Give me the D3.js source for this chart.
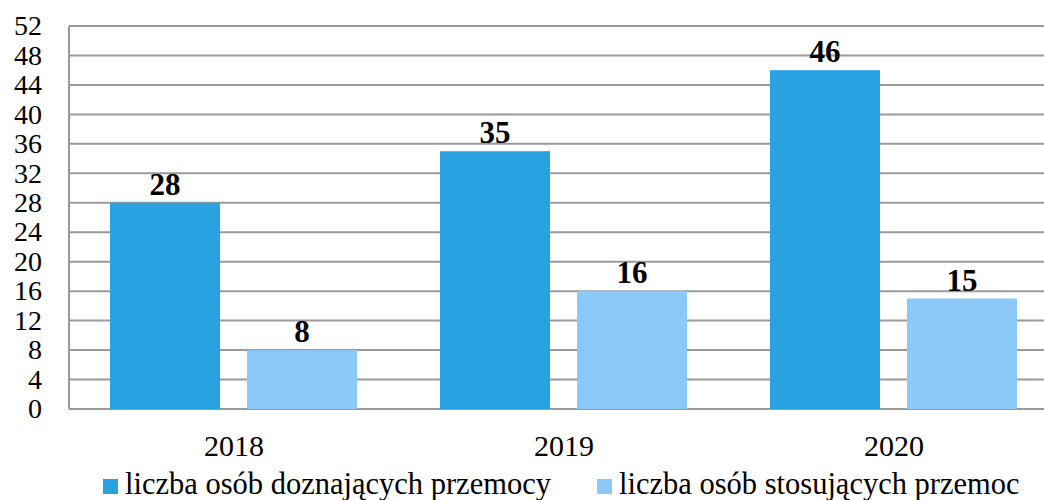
<!DOCTYPE html>
<html>
<head>
<meta charset="utf-8">
<script src="https://cdn.jsdelivr.net/npm/d3@7"></script>
<style>
  body { margin: 0; background: #fff; }
  svg { display: block; font-family: "Liberation Serif", "DejaVu Serif", serif; }
</style>
</head>
<body>
<svg width="1044" height="500"></svg>
<script>
var years = ["2018", "2019", "2020"];
var seriesNames = ["liczba osób doznających przemocy", "liczba osób stosujących przemoc"];
var victims = [28, 35, 46];
var perpetrators = [8, 16, 15];
var yTicks = [0, 4, 8, 12, 16, 20, 24, 28, 32, 36, 40, 44, 48, 52];

var colors = ["#2aa1e0", "#8dc9f8"];

var svg = d3.select("svg"),
    margin = { left: 69, top: 26, bottom: 409, right: 1059 };

var x = d3.scaleBand()
  .domain(years)
  .range([margin.left, margin.right]);

// bars inside each year slot
var xs = d3.scaleBand()
  .domain([0, 1])
  .range([41, 288])
  .paddingInner(0.197);

var y = d3.scaleLinear()
  .domain([0, 52])
  .range([margin.bottom, margin.top]);

// gridlines
svg.append("g")
  .selectAll("line")
  .data(yTicks)
  .enter().append("line")
    .attr("x1", margin.left)
    .attr("x2", margin.right)
    .attr("y1", function(d) { return y(d); })
    .attr("y2", function(d) { return y(d); })
    .attr("stroke", "#9a9a9a")
    .attr("stroke-width", 2);

// left axis line
svg.append("line")
  .attr("x1", margin.left).attr("x2", margin.left)
  .attr("y1", y(52)).attr("y2", y(0))
  .attr("stroke", "#9a9a9a")
  .attr("stroke-width", 2);

// y tick labels
svg.append("g")
  .selectAll("text")
  .data(yTicks)
  .enter().append("text")
    .attr("x", 42)
    .attr("y", function(d) { return y(d); })
    .attr("dy", "0.33em")
    .attr("text-anchor", "end")
    .attr("font-size", 28)
    .attr("fill", "#000")
    .text(function(d) { return d; });

var rows = years.map(function(yr, i) { return [victims[i], perpetrators[i]]; });

var groups = svg.append("g")
  .selectAll("g")
  .data(years)
  .enter().append("g")
    .attr("transform", function(d) { return "translate(" + x(d) + ",0)"; });

groups.selectAll("rect")
  .data(function(d, i) { return rows[i]; })
  .enter().append("rect")
    .attr("x", function(d, j) { return xs(j); })
    .attr("width", xs.bandwidth())
    .attr("y", function(d) { return y(d); })
    .attr("height", function(d) { return y(0) - y(d); })
    .attr("fill", function(d, j) { return colors[j]; });

groups.selectAll("text.val")
  .data(function(d, i) { return rows[i]; })
  .enter().append("text")
    .attr("class", "val")
    .attr("x", function(d, j) { return xs(j) + xs.bandwidth() / 2; })
    .attr("y", function(d) { return y(d) - 8; })
    .attr("text-anchor", "middle")
    .attr("font-size", 31)
    .attr("font-weight", "bold")
    .attr("fill", "#000")
    .text(function(d) { return d; });

// x labels
svg.append("g")
  .selectAll("text")
  .data(years)
  .enter().append("text")
    .attr("x", function(d) { return x(d) + x.bandwidth() / 2; })
    .attr("y", 456)
    .attr("text-anchor", "middle")
    .attr("font-size", 30)
    .attr("fill", "#000")
    .text(function(d) { return d; });

// legend
var legX = [103, 597];
var leg = svg.append("g")
  .selectAll("g")
  .data(seriesNames)
  .enter().append("g")
    .attr("transform", function(d, i) { return "translate(" + legX[i] + ",479)"; });

leg.append("rect")
  .attr("width", 15).attr("height", 15)
  .attr("fill", function(d, i) { return colors[i]; });

leg.append("text")
  .attr("x", 22)
  .attr("y", 15)
  .attr("font-size", 30.5)
  .attr("fill", "#000")
  .text(function(d) { return d; });
</script>
</body>
</html>
